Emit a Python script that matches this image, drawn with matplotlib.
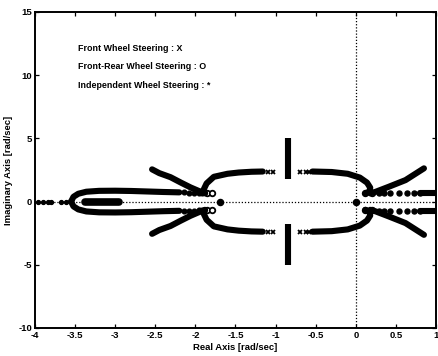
import matplotlib
matplotlib.use("Agg")
import matplotlib.pyplot as plt
import numpy as np

plt.rcParams['font.family'] = ['Liberation Sans', 'DejaVu Sans']

# ---- root-locus branches (upper half; lower half is the complex conjugate) ----
# outer left loop
loop_re = [-3.55, -3.52, -3.46, -3.36, -3.2, -3.0, -2.8, -2.6, -2.4, -2.2]
loop_im = [0.0, 0.38, 0.62, 0.78, 0.85, 0.86, 0.84, 0.80, 0.76, 0.73]
# discrete points where the loop branch thins out
loop_tail_re = [-2.14, -2.08, -2.02, -1.96, -1.92]
loop_tail_im = [0.72, 0.71, 0.71, 0.70, 0.70]
# front-rear steering end points (open circles)
fr_left_re = [-1.86, -1.79]
fr_left_im = [0.68, 0.66]
fr_right_re = [0.12, 0.20]
fr_right_im = [0.66, 0.70]

# short real-axis segment inside the loop
bar_re = [-3.38, -2.95]
bar_im = [0.0, 0.0]
# sparse real-axis points left of the loop
axis_pts_re = [-3.96, -3.90, -3.84, -3.80, -3.68, -3.61]
# isolated real poles
real_pole_re = [-1.69, 0.0]

# arc entering from the upper left
arc_l_re = [-2.54, -2.45, -2.31, -2.18, -2.06, -1.95, -1.88]
arc_l_im = [2.55, 2.25, 1.93, 1.50, 1.12, 0.82, 0.68]

# inner ellipse, left part
ell_l_re = [-1.88, -1.90, -1.86, -1.77, -1.60, -1.46, -1.30, -1.16]
ell_l_im = [0.65, 0.91, 1.44, 1.96, 2.20, 2.30, 2.36, 2.38]
# inner ellipse, right part
ell_r_re = [-0.54, -0.30, -0.10, 0.05, 0.14, 0.18, 0.17, 0.12]
ell_r_im = [2.38, 2.34, 2.20, 1.90, 1.50, 1.10, 0.80, 0.65]
# front wheel steering markers on the ellipse
fws_re = [-1.09, -1.03, -0.70, -0.62, -0.58]
fws_im = [2.38, 2.38, 2.38, 2.38, 2.38]

# vertical branch
vert_re = [-0.85, -0.85]
vert_im = [1.76, 5.0]

# arc entering from the upper right
arc_r_re = [0.85, 0.62, 0.41, 0.25, 0.18]
arc_r_im = [2.63, 1.70, 1.17, 0.78, 0.65]

# row of points to the right
row_re = [0.29, 0.35, 0.43, 0.54, 0.64, 0.72, 0.80]
row_im = [0.71, 0.71, 0.71, 0.71, 0.71, 0.71, 0.71]
row_dense_re = [0.80, 1.05]
row_dense_im = [0.71, 0.71]

x_ticks = [-4, -3.5, -3, -2.5, -2, -1.5, -1, -0.5, 0, 0.5, 1]
x_ticklabels = ['-4', '-3.5', '-3', '-2.5', '-2', '-1.5', '-1', '-0.5', '0', '0.5', '1']
y_ticks = [-10, -5, 0, 5, 10, 15]
y_ticklabels = ['-10', '-5', '0', '5', '10', '15']

legend_lines = ["Front Wheel Steering : X",
                "Front-Rear Wheel Steering : O",
                "Independent Wheel Steering : *"]

fig = plt.figure(figsize=(4.38, 3.56), dpi=100)
ax = fig.add_axes([0.0799, 0.0787, 0.9155, 0.8876])

k = 'black'
thick = dict(color=k, lw=4.4, solid_capstyle='round', solid_joinstyle='round')

# dotted axes through the origin
ax.axhline(0, color=k, lw=0.9, ls=(0, (1, 1.5)), zorder=1)
ax.axvline(0, color=k, lw=0.9, ls=(0, (1, 1.5)), zorder=1)

for sgn in (1, -1):
    def c(vals):
        return [sgn * v for v in vals]
    ax.plot(loop_re, c(loop_im), **thick)
    ax.plot(loop_tail_re, c(loop_tail_im), 'o', color=k, ms=3.4)
    ax.plot(fr_left_re, c(fr_left_im), 'o', mfc='white', mec=k, mew=1.3, ms=4)
    ax.plot(fr_right_re, c(fr_right_im), 'o', mfc='white', mec=k, mew=1.3, ms=4)
    ax.plot(arc_l_re, c(arc_l_im), **thick)
    ax.plot(ell_l_re, c(ell_l_im), **thick)
    ax.plot(ell_r_re, c(ell_r_im), **thick)
    ax.plot(fws_re, c(fws_im), 'x', color=k, ms=3.4, mew=1.3)
    ax.plot(vert_re, c(vert_im), color=k, lw=4.4, solid_capstyle='butt')
    ax.plot(arc_r_re, c(arc_r_im), **thick)
    ax.plot(row_re, c(row_im), 'o', color=k, ms=3.6)
    ax.plot(row_dense_re, c(row_dense_im), **thick)

ax.plot(bar_re, bar_im, color=k, lw=5.5, solid_capstyle='round')
ax.plot(axis_pts_re, [0] * len(axis_pts_re), 'o', color=k, ms=2.8)
ax.plot(real_pole_re, [0] * len(real_pole_re), 'o', color=k, ms=4.4)

ax.set_xlim(-4, 1)
ax.set_ylim(-10, 15)
ax.set_xticks(x_ticks)
ax.set_xticklabels(x_ticklabels)
ax.set_yticks(y_ticks)
ax.set_yticklabels(y_ticklabels)
ax.tick_params(direction='in', length=3, width=0.9, labelsize=6.8,
               top=True, right=True, pad=2)
for lab in ax.get_xticklabels() + ax.get_yticklabels():
    lab.set_fontweight('bold')
for sp in ax.spines.values():
    sp.set_linewidth(1.4)

ax.set_xlabel("Real Axis [rad/sec]", fontsize=6.8, fontweight='bold')
ax.set_ylabel("Imaginary Axis [rad/sec]", fontsize=6.8, fontweight='bold')
ax.xaxis.set_label_coords(0.5, -0.048)
ax.yaxis.set_label_coords(-0.056, 0.5)

for i, txt in enumerate(legend_lines):
    ax.text(-3.46, 12.12 - 1.45 * i, txt, fontsize=6.4, fontweight='bold',
            ha='left', va='center')

fig.savefig("out.png", dpi=100)
